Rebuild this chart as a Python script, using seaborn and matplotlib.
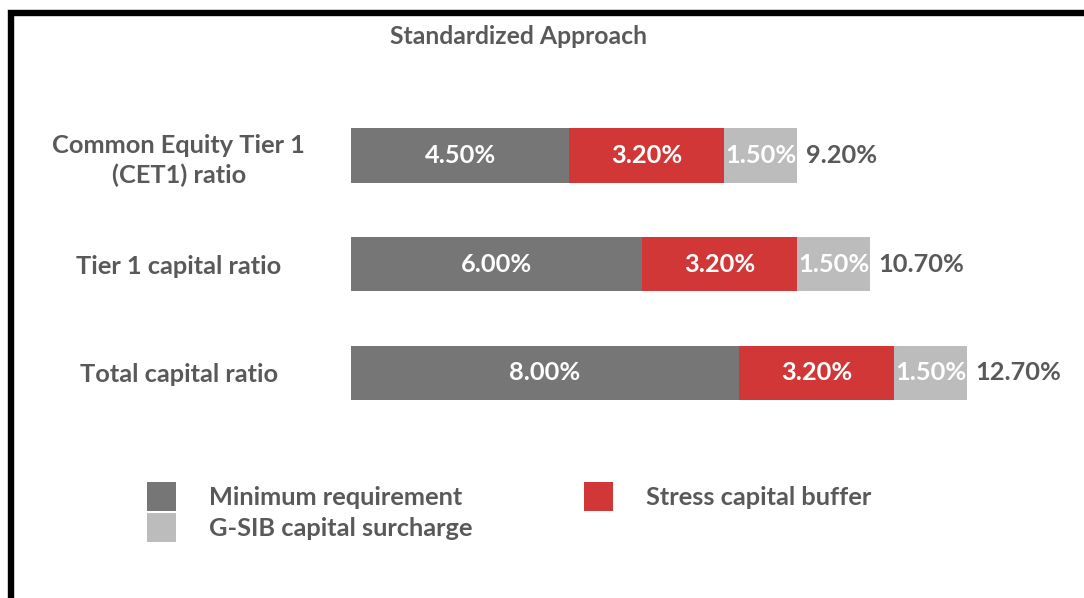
import matplotlib
matplotlib.use("Agg")
import matplotlib.pyplot as plt
from matplotlib.patches import Rectangle
import seaborn as sns
import pandas as pd

# data
categories = ["Common Equity Tier 1\n(CET1) ratio", "Tier 1 capital ratio", "Total capital ratio"]
minimum = [4.5, 6.0, 8.0]
stress_buffer = [3.2, 3.2, 3.2]
gsib_surcharge = [1.5, 1.5, 1.5]
series_names = ["Minimum requirement", "Stress capital buffer", "G-SIB capital surcharge"]
title = "Standardized Approach"

colors = ["#767676", "#D23737", "#BCBCBC"]
text_color = "#595959"
fs = 18.3

sns.set_theme(style="white")
plt.rcParams["font.family"] = ["Lato", "DejaVu Sans"]

df = pd.DataFrame({"category": categories, "min": minimum,
                   "stress": stress_buffer, "gsib": gsib_surcharge})
df["cum2"] = df["min"] + df["stress"]
df["total"] = df["cum2"] + df["gsib"]

fig = plt.figure(figsize=(10.84, 5.98), dpi=100)
ax = fig.add_axes([351 / 1084, 1 - 427 / 598, 729 / 1084, 326 / 598])

# stacked bars: draw cumulative sums, largest first
for col, c, name in [("total", colors[2], series_names[2]),
                     ("cum2", colors[1], series_names[1]),
                     ("min", colors[0], series_names[0])]:
    sns.barplot(data=df, x=col, y="category", color=c, width=0.5, linewidth=0,
                saturation=1, errorbar=None, label=name, ax=ax)

for i, row in df.iterrows():
    starts = [0, row["min"], row["cum2"]]
    vals = [row["min"], row["stress"], row["gsib"]]
    for s, v in zip(starts, vals):
        ax.text(s + v / 2, i, f"{v:.2f}%", ha="center", va="center",
                color="white", fontweight="bold", fontsize=fs)
    ax.annotate(f"{row['total']:.2f}%", (row["total"], i), xytext=(6, 0),
                textcoords="offset points", va="center", ha="left",
                color=text_color, fontweight="bold", fontsize=fs)

ax.set_xlim(0, 15.03)
ax.set_ylim(2.5, -0.5)
ax.set_xlabel("")
ax.set_ylabel("")
ax.set_xticks([])
sns.despine(ax=ax, left=True, bottom=True)
ax.tick_params(axis="y", length=0, pad=124)
for lbl in ax.get_yticklabels():
    lbl.set_ha("center")
    lbl.set_multialignment("center")
    lbl.set_linespacing(1.35)
    lbl.set_fontweight("bold")
    lbl.set_color(text_color)
    lbl.set_fontsize(fs)

if ax.get_legend() is not None:
    ax.get_legend().remove()

fig.text(518 / 1084, 1 - 37 / 598, title, ha="center", va="center",
         fontweight="bold", fontsize=fs - 0.5, color=text_color)

handles, labels = ax.get_legend_handles_labels()
lookup = dict(zip(labels, handles))
order = [series_names[0], series_names[2], series_names[1]]
fig.legend([lookup[n] for n in order], order, ncol=2, loc="upper left",
           bbox_to_anchor=(147 / 1084, 1 - 482 / 598), frameon=False,
           handlelength=1.13, handleheight=1.38, handletextpad=1.3,
           columnspacing=4.4, labelspacing=0.08, borderpad=0, borderaxespad=0,
           prop={"weight": "bold", "size": fs}, labelcolor=text_color)

# frame on left and top edges
fig.add_artist(Rectangle((11 / 1084, -0.5), 2, 1.5 - 12.5 / 598, fill=False,
                         edgecolor="black", linewidth=4.6, transform=fig.transFigure))

fig.savefig("out.png", dpi=100)
